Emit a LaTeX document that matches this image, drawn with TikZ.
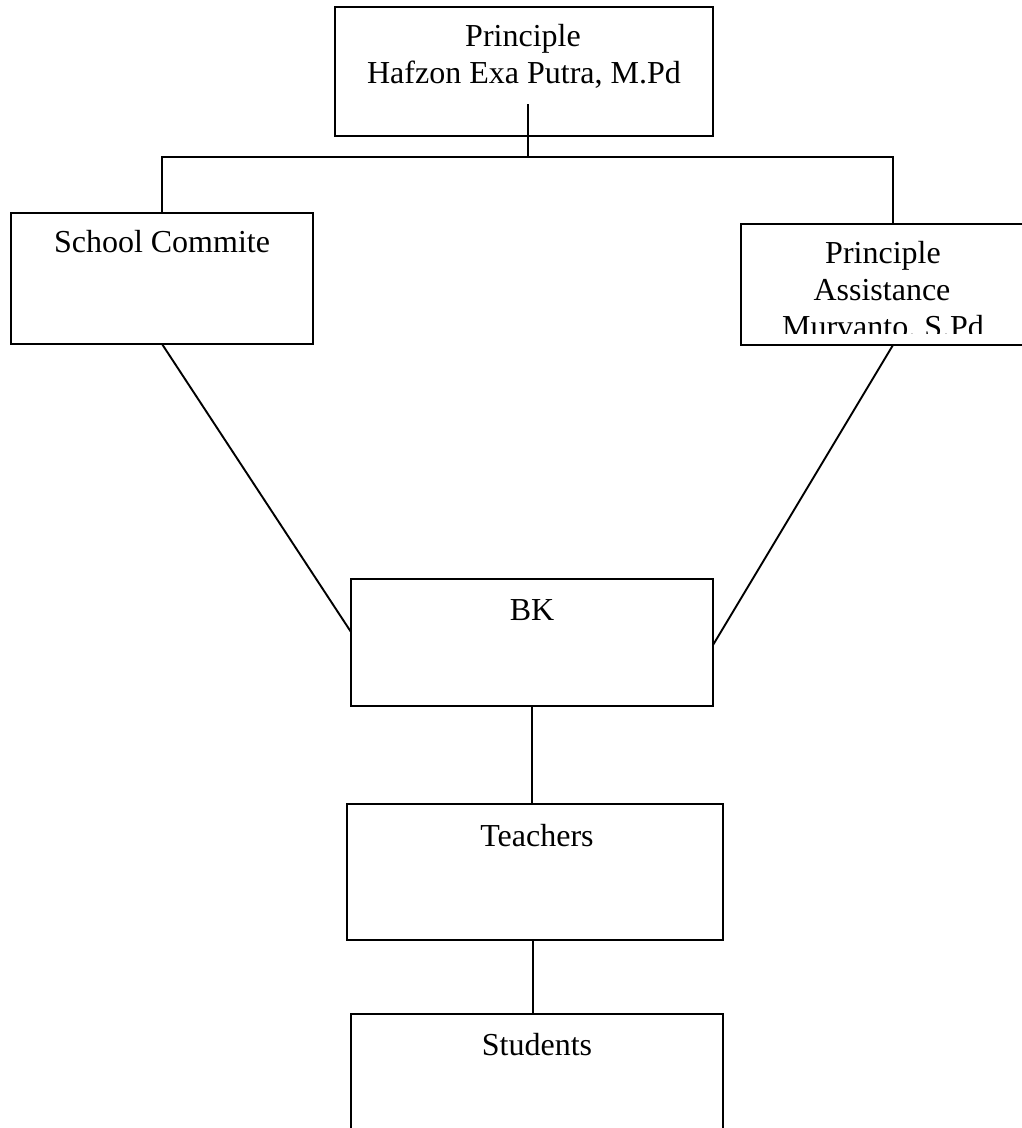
\documentclass[tikz,border=0pt]{standalone}
\usepackage{fontspec}
\setmainfont{Liberation Serif}
\tikzset{
  orgbox/.style={draw, line width=1.9pt, inner sep=0pt, outer sep=0pt, anchor=north west},
  lbl/.style={anchor=base, inner sep=0pt, font=\fontsize{32}{37}\selectfont},
  wire/.style={line width=1.9pt}
}
\begin{document}
\begin{tikzpicture}[x=1pt,y=-1pt]
\useasboundingbox (0,0) rectangle (1021,1128);
% boxes
\node[orgbox, minimum width=378pt, minimum height=129pt] (head) at (335,7) {};
\node[orgbox, minimum width=302pt, minimum height=131pt] (school) at (11,213) {};
\node[orgbox, minimum width=284pt, minimum height=121pt] (asst) at (741,224) {};
\node[orgbox, minimum width=362pt, minimum height=127pt] (bk) at (351,579) {};
\node[orgbox, minimum width=376pt, minimum height=136pt] (teach) at (347,804) {};
\node[orgbox, minimum width=372pt, minimum height=140pt] (stud) at (351,1014) {};
% labels
\node[lbl] (headA) at (523,46) {Principle};
\node[lbl] (headB) at (524,83) {Hafzon Exa Putra, M.Pd};
\node[lbl] (schoolT) at (162,252) {School Commite};
\node[lbl] (asstA) at (883,263) {Principle};
\node[lbl] (asstB) at (882,300) {Assistance};
\begin{scope}
  \clip (741,224) rectangle (1025,333);
  \node[lbl] (asstC) at (883,337) {Murvanto, S.Pd};
\end{scope}
\node[lbl] (bkT) at (532,620) {BK};
\node[lbl] (teachT) at (537,846) {Teachers};
\node[lbl] (studT) at (537,1055) {Students};
% connectors
\coordinate (hstem) at (528,104);
\coordinate (hj) at (528,157);
\coordinate (bl) at (162,157);
\coordinate (br) at (893,157);
\draw[wire] (hstem) -- (hj);
\draw[wire] (school.north) -- (bl) -- (br) -- (br |- asst.north);
\draw[wire] (school.south) -- ([yshift=10.5pt]bk.west);
\draw[wire] (br |- asst.south) -- ([yshift=-2.5pt]bk.east);
\draw[wire] (bk.south) -- (bk.south |- teach.north);
\draw[wire] ([xshift=-2pt]teach.south) -- ([xshift=-2pt]teach.south |- stud.north);
\end{tikzpicture}
\end{document}
